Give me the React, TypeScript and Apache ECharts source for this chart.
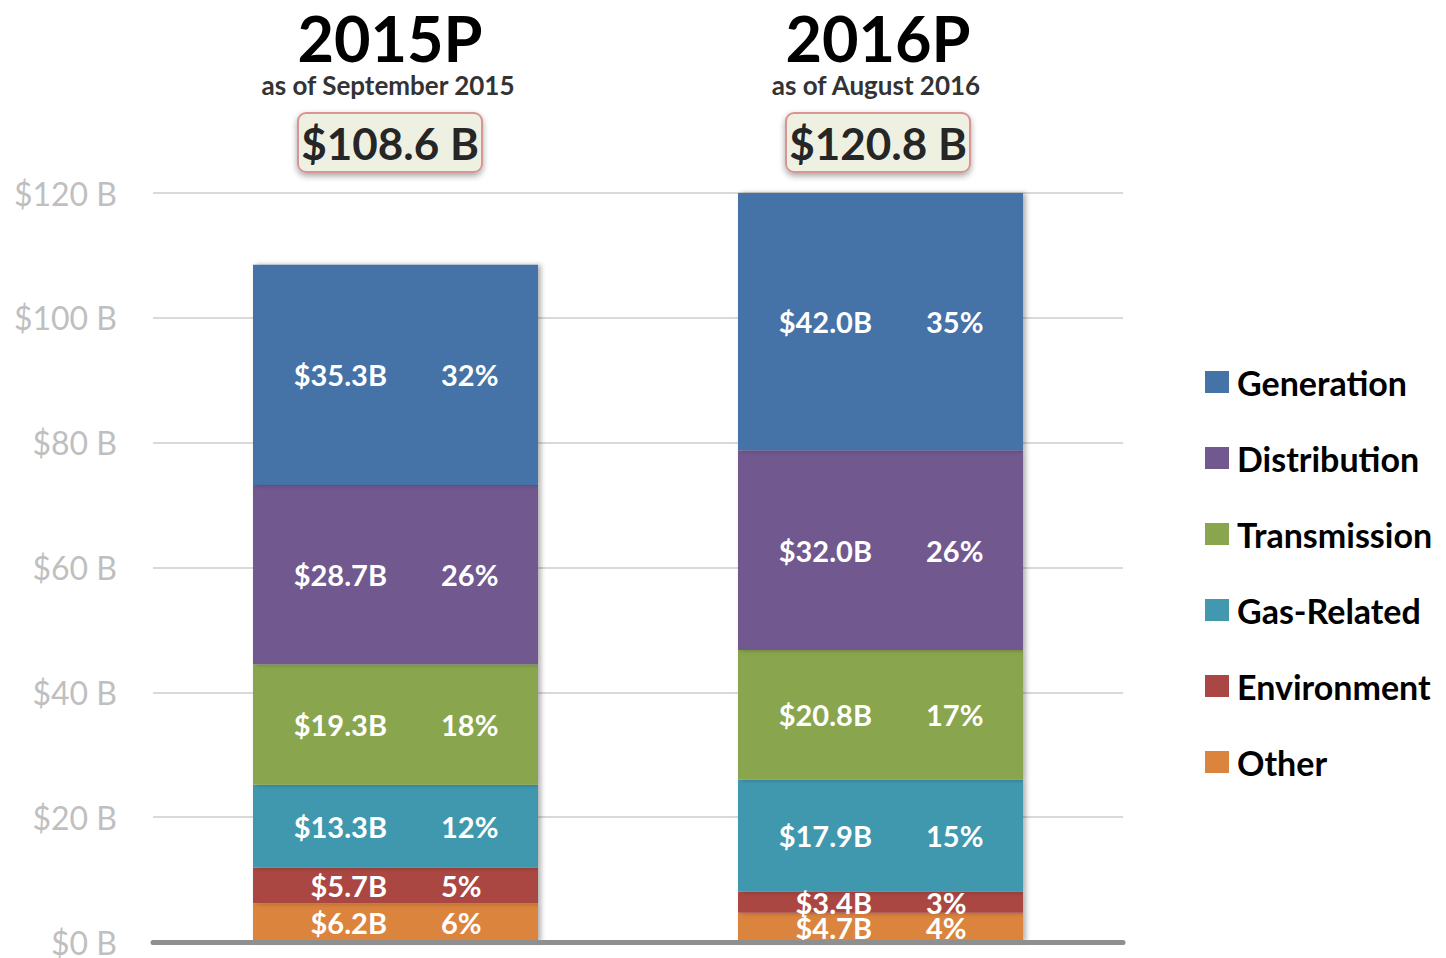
import React, { useEffect, useRef } from "react";
import * as echarts from "echarts";

const categories = ["2015P", "2016P"];
const subtitles = ["as of September 2015", "as of August 2016"];
const totals = ["$108.6 B", "$120.8 B"];

const seriesNames = ["Other", "Environment", "Gas-Related", "Transmission", "Distribution", "Generation"];
const legendOrder = ["Generation", "Distribution", "Transmission", "Gas-Related", "Environment", "Other"];

const otherVals = [6.2, 4.7];
const environmentVals = [5.7, 3.4];
const gasVals = [13.3, 17.9];
const transmissionVals = [19.3, 20.8];
const distributionVals = [28.7, 32.0];
const generationVals = [35.3, 42.0];

const otherPct = [6, 4];
const environmentPct = [5, 3];
const gasPct = [12, 15];
const transmissionPct = [18, 17];
const distributionPct = [26, 26];
const generationPct = [32, 35];

const yMin = 0;
const yMax = 120;
const yInterval = 20;

const colors: Record<string, string> = {
  Generation: "#4572A7",
  Distribution: "#71588F",
  Transmission: "#89A54E",
  "Gas-Related": "#4198AF",
  Environment: "#AA4643",
  Other: "#DB843D",
};

const valuesByName: Record<string, number[]> = {
  Other: otherVals,
  Environment: environmentVals,
  "Gas-Related": gasVals,
  Transmission: transmissionVals,
  Distribution: distributionVals,
  Generation: generationVals,
};
const pctByName: Record<string, number[]> = {
  Other: otherPct,
  Environment: environmentPct,
  "Gas-Related": gasPct,
  Transmission: transmissionPct,
  Distribution: distributionPct,
  Generation: generationPct,
};

const FONT = "Lato, 'Open Sans', sans-serif";

// header layout (centres of the two headers)
const headerX = [390, 878];
const BAR_W = 285;
const DOLLAR_RIGHT = 134; // offset of dollar label's right edge from bar's left edge
const PCT_LEFT = 188; // offset of percentage label's left edge from bar's left edge

export default function App() {
  const ref = useRef<HTMLDivElement>(null);

  useEffect(() => {
    document.body.style.margin = "0";
    if (!ref.current) return;
    const chart = echarts.init(ref.current, undefined, { renderer: "svg" });

    const graphic: any[] = [];
    categories.forEach((c, i) => {
      const cx = headerX[i];
      graphic.push({
        type: "text",
        x: cx,
        y: 37,
        style: {
          text: c,
          align: "center",
          verticalAlign: "middle",
          fill: "#000",
          font: `bold 63px ${FONT}`,
          lineHeight: 60,
        },
      });
      graphic.push({
        type: "text",
        x: cx - 2,
        y: 85,
        style: {
          text: subtitles[i],
          align: "center",
          verticalAlign: "middle",
          fill: "#333",
          font: `bold 26px ${FONT}`,
        },
      });
      graphic.push({
        type: "rect",
        shape: { x: cx - 92, y: 113, width: 184, height: 59, r: 8 },
        style: {
          fill: "#EEF1E2",
          stroke: "#D99594",
          lineWidth: 2,
          shadowBlur: 6,
          shadowOffsetY: 3,
          shadowColor: "rgba(0,0,0,0.35)",
        },
      });
      graphic.push({
        type: "text",
        x: cx,
        y: 143,
        style: {
          text: totals[i],
          align: "center",
          verticalAlign: "middle",
          fill: "#262626",
          font: `bold 44px ${FONT}`,
        },
      });
    });

    const labelText = {
      color: "#fff",
      fontSize: 29,
      fontWeight: "bold",
      fontFamily: FONT,
      verticalAlign: "middle",
    };

    const valueSeries = seriesNames.map((name) => ({
      name,
      type: "bar",
      stack: "total",
      xAxisIndex: 0,
      barWidth: BAR_W,
      data: valuesByName[name],
      itemStyle: {
        color: colors[name],
        shadowBlur: 5,
        shadowOffsetX: 3,
        shadowColor: "rgba(0,0,0,0.3)",
      },
      label: {
        show: true,
        position: [DOLLAR_RIGHT, "50%"],
        align: "right",
        ...labelText,
        formatter: (p: any) => `$${Number(p.value).toFixed(1)}B`,
      },
    }));

    // transparent twin stack that carries the percentage labels
    const pctSeries = seriesNames.map((name) => ({
      name: name + " share",
      type: "bar",
      stack: "share",
      xAxisIndex: 1,
      barWidth: BAR_W,
      silent: true,
      z: 3,
      data: valuesByName[name],
      itemStyle: { color: "rgba(0,0,0,0)" },
      label: {
        show: true,
        position: [PCT_LEFT, "50%"],
        align: "left",
        ...labelText,
        formatter: (p: any) => `${pctByName[name][p.dataIndex]}%`,
      },
    }));

    chart.setOption({
      animation: false,
      grid: { left: 153, right: 323, top: 193, bottom: 16, containLabel: false },
      legend: {
        data: legendOrder,
        orient: "vertical",
        left: 1200,
        top: 360,
        itemWidth: 24,
        itemHeight: 22,
        itemGap: 42,
        icon: "rect",
        selectedMode: false,
        textStyle: {
          fontSize: 34,
          fontWeight: "bold",
          color: "#000",
          fontFamily: FONT,
          lineHeight: 33,
          padding: [0, 0, 0, 3],
        },
      },
      xAxis: [
        {
          type: "category",
          data: categories,
          position: "bottom",
          z: 5,
          axisLine: {
            show: true,
            lineStyle: {
              color: "#8F8F8F",
              width: 5,
            },
          },
          axisTick: { show: false },
          axisLabel: { show: false },
        },
        {
          type: "category",
          data: categories,
          position: "bottom",
          show: false,
        },
      ],
      yAxis: {
        type: "value",
        min: yMin,
        max: yMax,
        interval: yInterval,
        axisLine: { show: false },
        axisTick: { show: false },
        axisLabel: {
          formatter: (v: number) => `$${v} B`,
          color: "#BFBFBF",
          fontSize: 32,
          fontFamily: FONT,
          margin: 36,
        },
        splitLine: {
          lineStyle: {
            color: "#D9D9D9",
            width: 2,
          },
        },
      },
      graphic,
      series: [...valueSeries, ...pctSeries],
    });

    return () => chart.dispose();
  }, []);

  return <div ref={ref} style={{ width: 1446, height: 958 }} />;
}
